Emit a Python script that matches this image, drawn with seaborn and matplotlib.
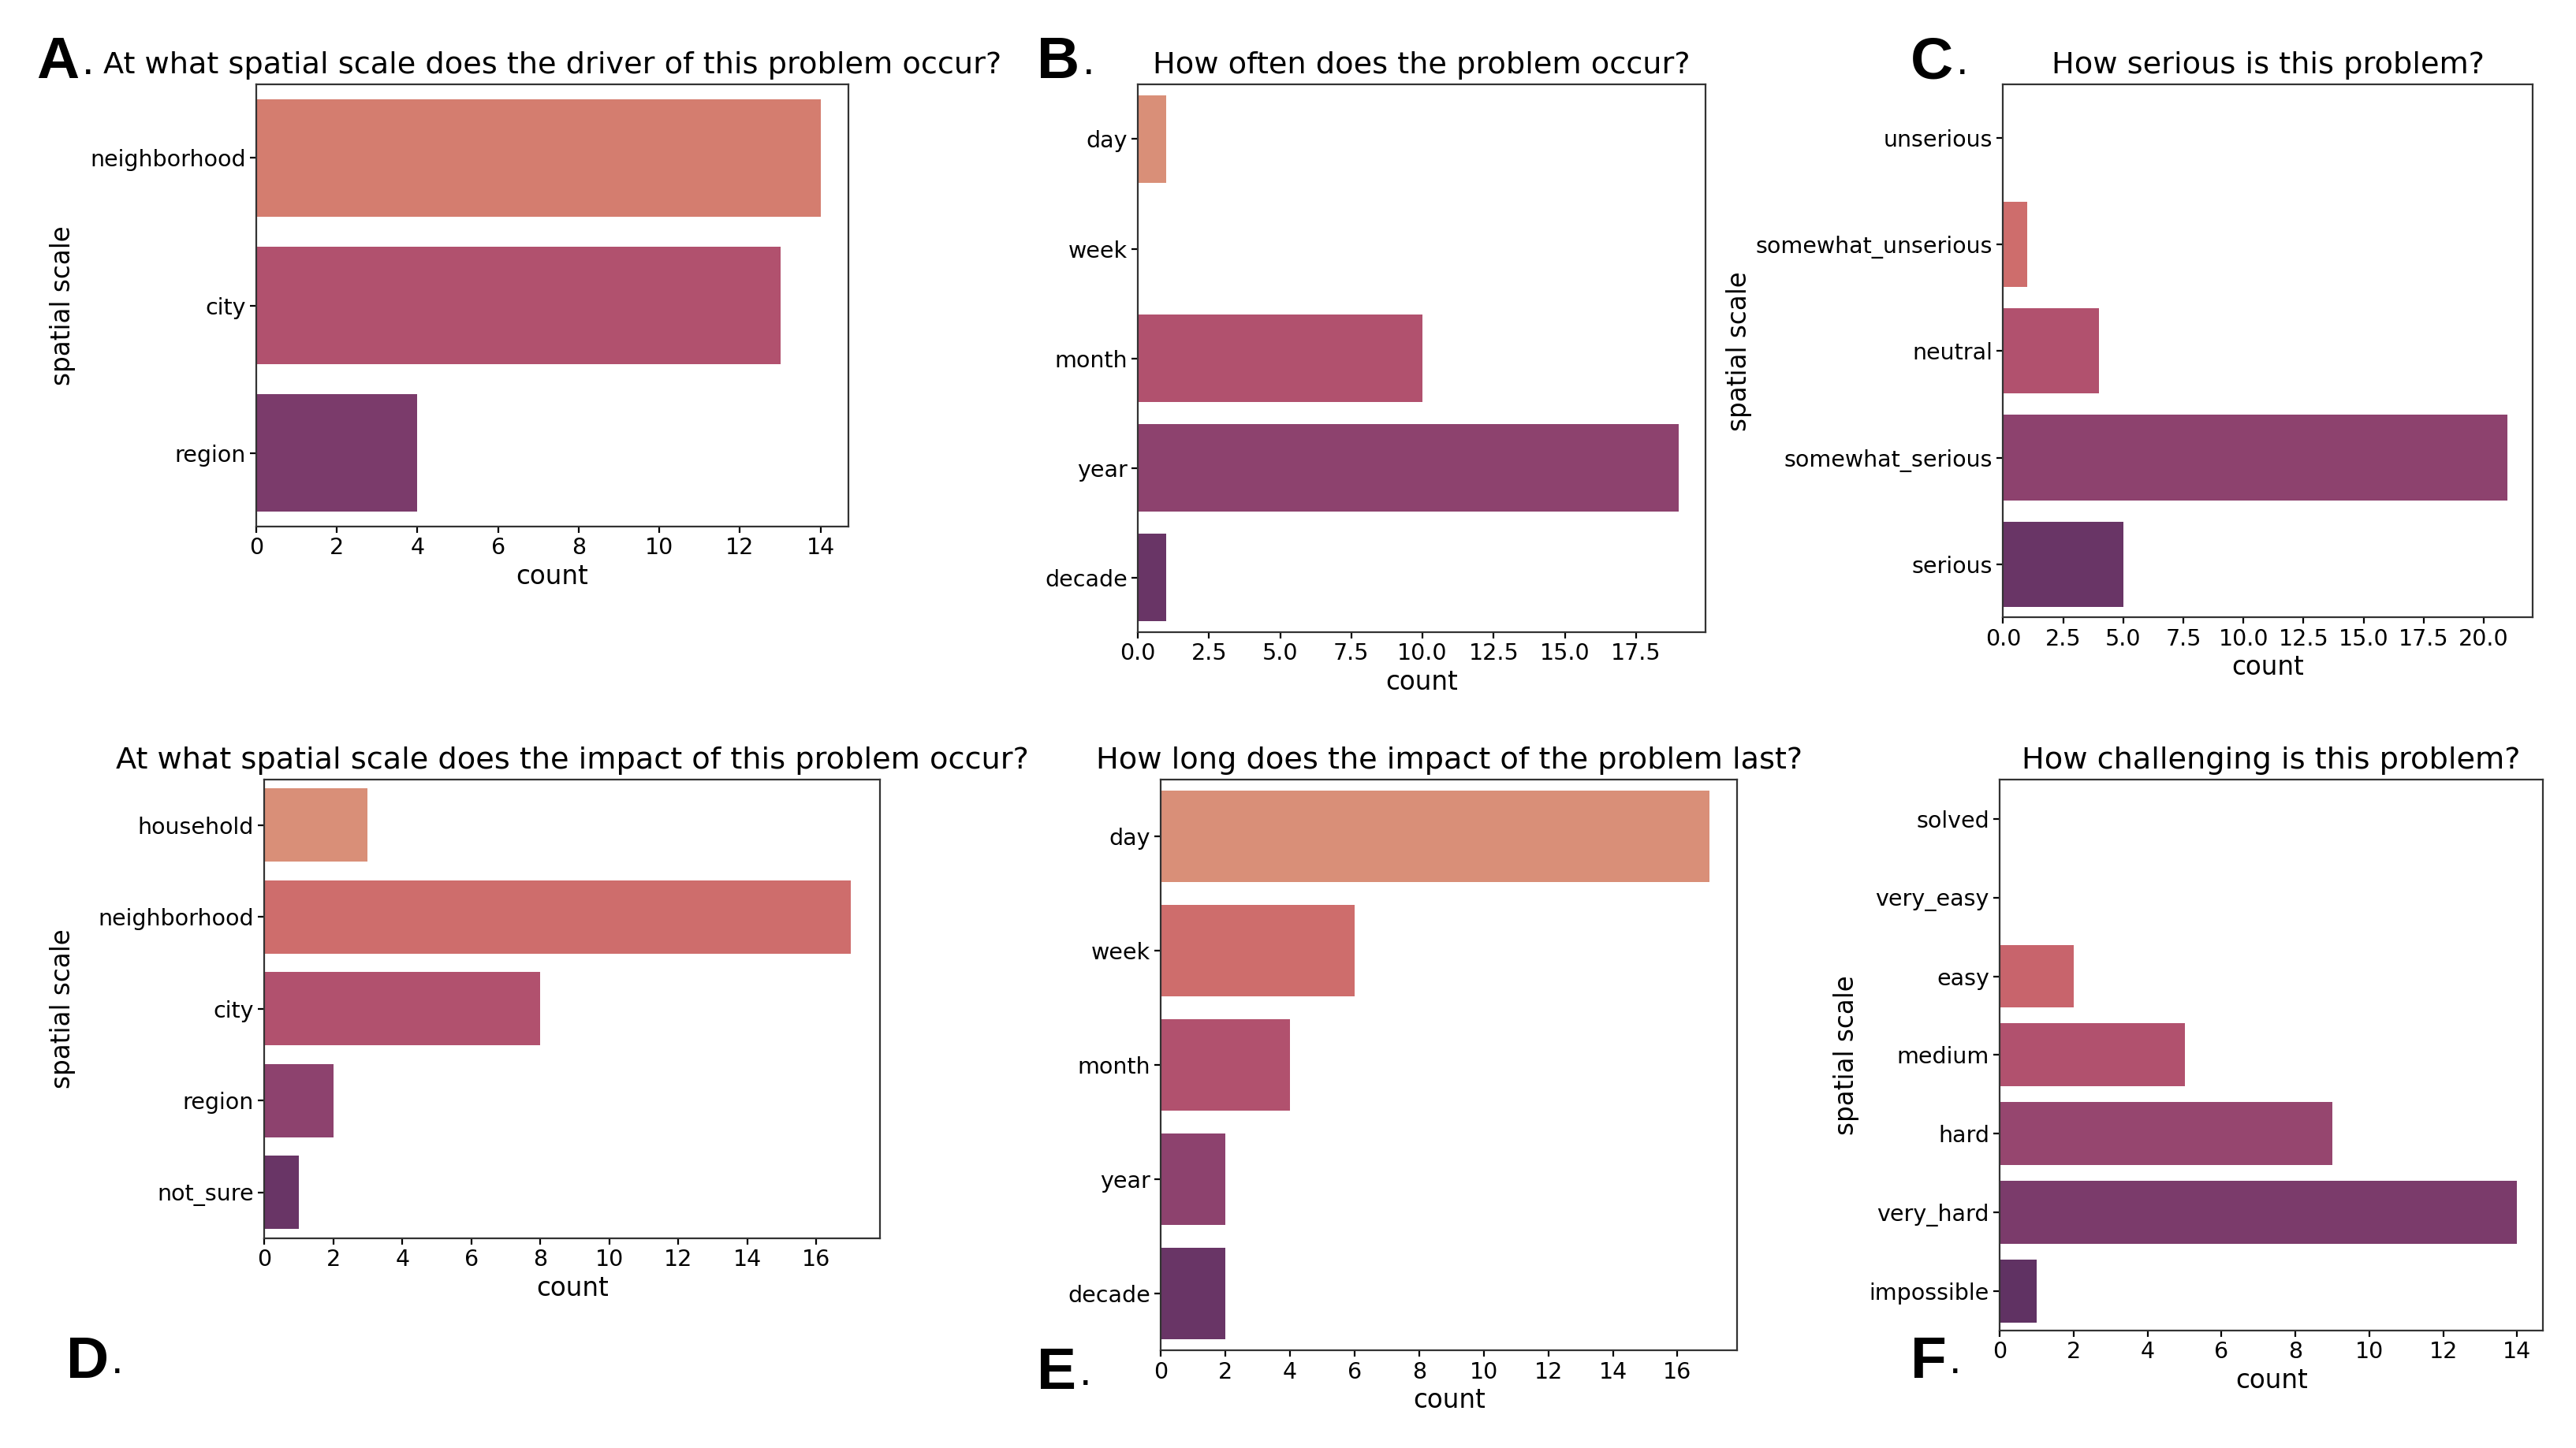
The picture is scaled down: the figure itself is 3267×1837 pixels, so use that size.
import matplotlib
matplotlib.use("Agg")
import matplotlib.pyplot as plt
import seaborn as sns
from matplotlib import font_manager

# Данные для шести панелей
driver_scale = ["neighborhood", "city", "region"]
driver_counts = [14, 13, 4]

freq_labels = ["day", "week", "month", "year", "decade"]
freq_counts = [1, 0, 10, 19, 1]

serious_labels = ["unserious", "somewhat_unserious", "neutral", "somewhat_serious", "serious"]
serious_counts = [0, 1, 4, 21, 5]

impact_scale = ["household", "neighborhood", "city", "region", "not_sure"]
impact_counts = [3, 17, 8, 2, 1]

duration_labels = ["day", "week", "month", "year", "decade"]
duration_counts = [17, 6, 4, 2, 2]

challenge_labels = ["solved", "very_easy", "easy", "medium", "hard", "very_hard", "impossible"]
challenge_counts = [0, 0, 2, 5, 9, 14, 1]

names = {f.name for f in font_manager.fontManager.ttflist}
COND = "DejaVu Sans Condensed" if "DejaVu Sans Condensed" in names else "DejaVu Sans"

plt.rcParams["font.family"] = ["DejaVu Sans"]
plt.rcParams["axes.linewidth"] = 1.6
plt.rcParams["xtick.major.width"] = 1.6
plt.rcParams["ytick.major.width"] = 1.6
plt.rcParams["xtick.major.size"] = 6
plt.rcParams["ytick.major.size"] = 6
plt.rcParams["axes.edgecolor"] = "#333333"

fig = plt.figure(figsize=(32.67, 18.37), dpi=100)

# (left, bottom, width, height), данные, заголовок, шрифт, позиция ylabel
panels = [
    ((0.0994, 0.6363, 0.2301, 0.3055), driver_scale, driver_counts,
     "At what spatial scale does the driver of this problem occur?", COND, -0.304),
    ((0.4417, 0.5633, 0.2205, 0.3785), freq_labels, freq_counts,
     "How often does the problem occur?", "DejaVu Sans", None),
    ((0.7776, 0.5735, 0.2057, 0.3683), serious_labels, serious_counts,
     "How serious is this problem?", COND, -0.474),
    ((0.1026, 0.1448, 0.2391, 0.3170), impact_scale, impact_counts,
     "At what spatial scale does the impact of this problem occur?", COND, -0.306),
    ((0.4506, 0.0673, 0.2238, 0.3945), duration_labels, duration_counts,
     "How long does the impact of the problem last?", "DejaVu Sans", None),
    ((0.7763, 0.0810, 0.2109, 0.3808), challenge_labels, challenge_counts,
     "How challenging is this problem?", "DejaVu Sans", -0.258),
]

for rect, cats, vals, title, fam, ylab_x in panels:
    ax = fig.add_axes(rect)
    sns.barplot(x=vals, y=cats, hue=cats, palette="flare", legend=False, ax=ax, order=cats)
    cond = fam == COND and COND != "DejaVu Sans"
    ax.set_title(title, fontsize=28.5 if cond else 27.5, family=fam, pad=10)
    ax.set_xlabel("count", fontsize=24.5 if cond else 23.5, family=fam)
    for lab in ax.get_xticklabels() + ax.get_yticklabels():
        lab.set_fontsize(21.8 if cond else 20.5)
        lab.set_family(fam)
    if ylab_x is not None:
        ax.set_ylabel("spatial scale", fontsize=23.5)
        ax.yaxis.set_label_coords(ylab_x, 0.5)
    else:
        ax.set_ylabel("")

letters = [("A", 0.0141, 0.9567), ("B", 0.4026, 0.9567), ("C", 0.7417, 0.9567),
           ("D", 0.0256, 0.0593), ("E", 0.4026, 0.0513), ("F", 0.7417, 0.0593)]
for letter, x, y in letters:
    t = fig.text(x, y, letter, fontsize=54, fontweight="bold",
                 family=["Liberation Sans", "DejaVu Sans"], va="center", ha="left")
    fig.canvas.draw()
    bb = t.get_window_extent().transformed(fig.transFigure.inverted())
    fig.text(bb.x1 + 0.001, y, ".", fontsize=40,
             family=["Liberation Sans", "DejaVu Sans"], va="center", ha="left")

fig.savefig("out.png", dpi=100)
